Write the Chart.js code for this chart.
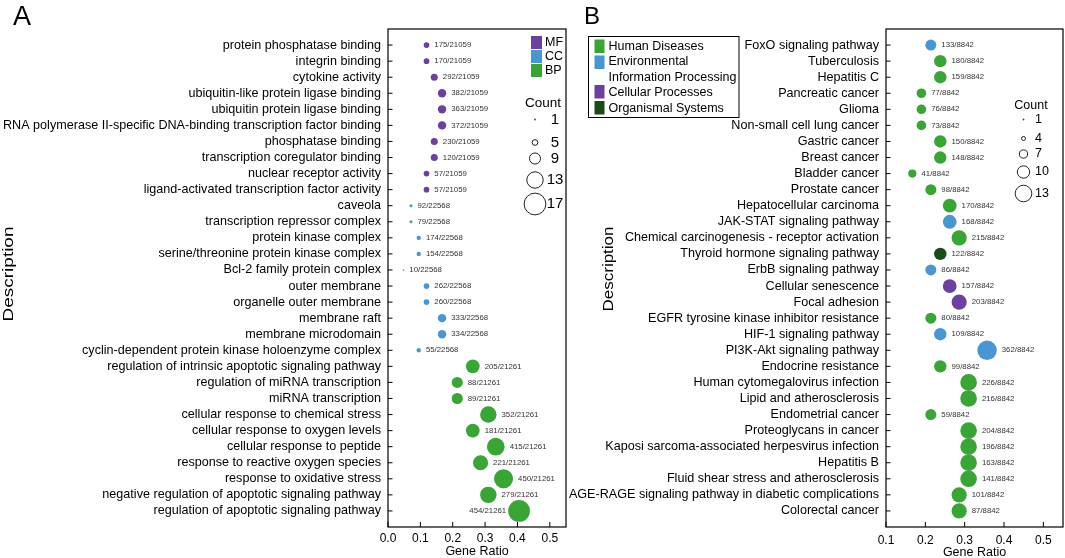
<!DOCTYPE html>
<html><head><meta charset="utf-8">
<script src="https://cdn.jsdelivr.net/npm/chart.js@4.4.1/dist/chart.umd.min.js"></script>
<style>
html,body{margin:0;padding:0;background:#fff;width:1065px;height:558px;overflow:hidden;}
#ca{position:absolute;left:0;top:0;}
#cb{position:absolute;left:560px;top:0;}
</style></head><body>
<canvas id="ca" width="575" height="558"></canvas>
<canvas id="cb" width="505" height="558"></canvas>
<script>
const FONT = '"Liberation Sans", Arial, Helvetica, sans-serif';

// ---------- Panel A (GO) ----------
const termsA = [
  "protein phosphatase binding","integrin binding","cytokine activity",
  "ubiquitin-like protein ligase binding","ubiquitin protein ligase binding",
  "RNA polymerase II-specific DNA-binding transcription factor binding",
  "phosphatase binding","transcription coregulator binding","nuclear receptor activity",
  "ligand-activated transcription factor activity",
  "caveola","transcription repressor complex","protein kinase complex",
  "serine/threonine protein kinase complex","Bcl-2 family protein complex","outer membrane",
  "organelle outer membrane","membrane raft","membrane microdomain",
  "cyclin-dependent protein kinase holoenzyme complex",
  "regulation of intrinsic apoptotic signaling pathway","regulation of miRNA transcription",
  "miRNA transcription","cellular response to chemical stress","cellular response to oxygen levels",
  "cellular response to peptide","response to reactive oxygen species","response to oxidative stress",
  "negative regulation of apoptotic signaling pathway","regulation of apoptotic signaling pathway"
];
const ratiosA = [0.119,0.119,0.143,0.167,0.167,0.167,0.143,0.143,0.119,0.119,
                 0.071,0.071,0.095,0.095,0.048,0.119,0.119,0.167,0.167,0.095,
                 0.262,0.214,0.214,0.310,0.262,0.333,0.286,0.357,0.310,0.405];
const countsA = [5,5,6,7,7,7,6,6,5,5, 3,3,4,4,2,5,5,7,7,4, 11,9,9,13,11,14,12,15,13,17];
const groupsA = ["MF","MF","MF","MF","MF","MF","MF","MF","MF","MF",
                 "CC","CC","CC","CC","CC","CC","CC","CC","CC","CC",
                 "BP","BP","BP","BP","BP","BP","BP","BP","BP","BP"];
const bgA = ["175/21059","170/21059","292/21059","382/21059","363/21059","372/21059","230/21059","120/21059","57/21059","57/21059",
             "92/22568","79/22568","174/22568","154/22568","10/22568","262/22568","260/22568","333/22568","334/22568","55/22568",
             "205/21261","88/21261","89/21261","352/21261","181/21261","415/21261","221/21261","450/21261","279/21261","454/21261"];
const xTicksA = [0.0,0.1,0.2,0.3,0.4,0.5];
const legendGroupsA = ["MF","CC","BP"];
const legendCountsA = [1,5,9,13,17];

// ---------- Panel B (KEGG) ----------
const termsB = [
  "FoxO signaling pathway","Tuberculosis","Hepatitis C","Pancreatic cancer","Glioma",
  "Non-small cell lung cancer","Gastric cancer","Breast cancer","Bladder cancer","Prostate cancer",
  "Hepatocellular carcinoma","JAK-STAT signaling pathway","Chemical carcinogenesis - receptor activation",
  "Thyroid hormone signaling pathway","ErbB signaling pathway","Cellular senescence","Focal adhesion",
  "EGFR tyrosine kinase inhibitor resistance","HIF-1 signaling pathway","PI3K-Akt signaling pathway",
  "Endocrine resistance","Human cytomegalovirus infection","Lipid and atherosclerosis","Endometrial cancer",
  "Proteoglycans in cancer","Kaposi sarcoma-associated herpesvirus infection","Hepatitis B",
  "Fluid shear stress and atherosclerosis","AGE-RAGE signaling pathway in diabetic complications","Colorectal cancer"
];
const ratiosB = [0.214,0.238,0.238,0.190,0.190,0.190,0.238,0.238,0.167,0.214,
                 0.262,0.262,0.286,0.238,0.214,0.262,0.286,0.214,0.238,0.357,
                 0.238,0.310,0.310,0.214,0.310,0.310,0.310,0.310,0.286,0.286];
const countsB = [9,10,10,8,8,8,10,10,7,9, 11,11,12,10,9,11,12,9,10,15, 10,13,13,9,13,13,13,13,12,12];
const groupsB = ["EIP","HD","HD","HD","HD","HD","HD","HD","HD","HD",
                 "HD","EIP","HD","OS","EIP","CP","CP","HD","EIP","EIP",
                 "HD","HD","HD","HD","HD","HD","HD","HD","HD","HD"];
const bgB = ["133/8842","180/8842","159/8842","77/8842","76/8842","73/8842","150/8842","148/8842","41/8842","98/8842",
             "170/8842","168/8842","215/8842","122/8842","86/8842","157/8842","203/8842","80/8842","109/8842","362/8842",
             "99/8842","226/8842","216/8842","59/8842","204/8842","196/8842","163/8842","141/8842","101/8842","87/8842"];
const xTicksB = [0.1,0.2,0.3,0.4,0.5];
const legendGroupsB = [["HD","Human Diseases"],["EIP","Environmental"],[null,"Information Processing"],["CP","Cellular Processes"],["OS","Organismal Systems"]];
const legendCountsB = [1,4,7,10,13];

const COLORS = {MF:"#6b40a0",CC:"#4896d2",BP:"#38a534",HD:"#38a534",EIP:"#4896d2",CP:"#6b40a0",OS:"#184d18"};

const radA = c => Math.max(0.8, 0.67*c - 0.5);
const radB = c => Math.max(0.8, 0.7*c - 0.8);

function drawRotated(ctx, text, cx, cy, fontPx, length){
  ctx.save();
  ctx.font = fontPx + "px " + FONT;
  const w = ctx.measureText(text).width;
  ctx.translate(cx, cy);
  ctx.rotate(-Math.PI/2);
  ctx.scale(length/w, 1);
  ctx.textAlign = "center"; ctx.textBaseline = "middle"; ctx.fillStyle = "#000";
  ctx.fillText(text, 0, 0);
  ctx.restore();
}

function makeChart(canvas, P){
  const pts = P.ratios.map((r,i)=>({x:r, y:i}));
  const plugin = {
    id: "panelDeco",
    afterDatasetsDraw(chart){
      const ctx = chart.ctx, ca = chart.chartArea;
      const meta = chart.getDatasetMeta(0);
      ctx.save();
      ctx.font = "7.8px " + FONT;
      ctx.fillStyle = "#333"; ctx.textBaseline = "middle"; ctx.textAlign = "left";
      meta.data.forEach((el,i)=>{
        const r = P.rad(P.counts[i]);
        const t = P.bg[i];
        const w = ctx.measureText(t).width;
        let tx = el.x + r + 5;
        if (tx + w > ca.right - 2) tx = el.x - r - 2 - w;
        ctx.fillText(t, tx, el.y);
      });
      ctx.restore();
    },
    afterDraw(chart){
      const ctx = chart.ctx, ca = chart.chartArea;
      const xs = chart.scales.x, ys = chart.scales.y;
      ctx.save();
      ctx.strokeStyle = "#000"; ctx.lineWidth = 1.2;
      ctx.strokeRect(ca.left, ca.top, ca.right - ca.left, ca.bottom - ca.top);
      ctx.lineWidth = 1;
      ctx.beginPath();
      P.terms.forEach((t,i)=>{ const y = ys.getPixelForValue(i); ctx.moveTo(ca.left, y); ctx.lineTo(ca.left + 4.5, y); });
      P.xticks.forEach(v=>{ const x = xs.getPixelForValue(v); ctx.moveTo(x, ca.bottom); ctx.lineTo(x, ca.bottom - 5); });
      ctx.stroke();
      ctx.fillStyle = "#000";
      ctx.font = "12.5px " + FONT; ctx.textAlign = "center"; ctx.textBaseline = "middle";
      ctx.fillText("Gene Ratio", (ca.left + ca.right)/2, P.gy);
      drawRotated(ctx, "Description", P.dx, P.dy, 14.5, P.dlen);
      ctx.font = P.letterSize + "px " + FONT; ctx.textAlign = "left"; ctx.textBaseline = "alphabetic";
      ctx.fillText(P.letter, P.lx, P.ly);
      P.legend(ctx);
      ctx.restore();
    }
  };
  return new Chart(canvas, {
    type: "scatter",
    data: { datasets: [{
      data: pts,
      backgroundColor: P.groups.map(g=>COLORS[g]),
      borderWidth: 0,
      pointRadius: c => P.rad(P.counts[c.dataIndex]),
      pointHoverRadius: c => P.rad(P.counts[c.dataIndex])
    }]},
    options: {
      responsive: false, animation: false, events: [],
      layout: { autoPadding: false, padding: { left: 0, right: P.padR, top: 29, bottom: 0 } },
      plugins: { legend: { display: false }, tooltip: { enabled: false } },
      scales: {
        x: {
          type: "linear", min: P.xmin, max: 0.55,
          afterBuildTicks: s => { s.ticks = P.xticks.map(v=>({value:v})); },
          afterFit: s => { s.height = 31; s.paddingLeft = 0; s.paddingRight = 0; },
          grid: { display: false, drawTicks: false },
          border: { display: false },
          ticks: { padding: P.xpad, color: "#000", font: { family: FONT, size: 12 }, maxRotation: 0, autoSkip: false,
                   callback: v => Number(v).toFixed(1) }
        },
        y: {
          type: "linear", reverse: true, min: -1, max: 30,
          afterBuildTicks: s => { s.ticks = P.terms.map((t,i)=>({value:i})); },
          afterFit: s => { s.width = P.yw; s.paddingTop = 0; s.paddingBottom = 0; },
          grid: { display: false, drawTicks: false },
          border: { display: false },
          ticks: { padding: 7, color: "#000", font: { family: FONT, size: 12.6 }, autoSkip: false,
                   callback: v => P.terms[v] }
        }
      }
    },
    plugins: [plugin]
  });
}

function countLegend(ctx, cfg){
  ctx.fillStyle = "#000";
  ctx.font = cfg.titleSize + "px " + FONT; ctx.textAlign = "center"; ctx.textBaseline = "middle";
  ctx.fillText("Count", cfg.tx, cfg.ty);
  cfg.counts.forEach((c,i)=>{
    const y = cfg.ys[i];
    const r = cfg.rad(c);
    ctx.beginPath();
    if (r <= 1) { ctx.fillStyle = "#444"; ctx.arc(cfg.cx, y, 0.9, 0, Math.PI*2); ctx.fill(); }
    else { ctx.strokeStyle = "#222"; ctx.lineWidth = 1; ctx.arc(cfg.cx, y, r, 0, Math.PI*2); ctx.stroke(); }
    ctx.fillStyle = "#000";
    ctx.font = cfg.numSize + "px " + FONT; ctx.textAlign = cfg.numAlign; ctx.textBaseline = "middle";
    ctx.fillText(String(c), cfg.nx, y);
  });
}

makeChart(document.getElementById("ca"), {
  terms: termsA, ratios: ratiosA, counts: countsA, groups: groupsA, bg: bgA, xticks: xTicksA,
  rad: radA, xmin: 0.0, yw: 388, padR: 9, xpad: 4,
  gy: 552, dx: 8.5, dy: 274, dlen: 95, letter: "A", letterSize: 27, lx: 13, ly: 25,
  legend(ctx){
    const tops = [36, 50, 64];
    legendGroupsA.forEach((g,i)=>{
      ctx.fillStyle = COLORS[g];
      ctx.fillRect(531, tops[i], 11, 13);
      ctx.fillStyle = "#000"; ctx.font = "12.5px " + FONT; ctx.textAlign = "left"; ctx.textBaseline = "middle";
      ctx.fillText(g, 545, tops[i] + 7);
    });
    countLegend(ctx, { counts: legendCountsA, rad: radA, tx: 543, ty: 103.5, titleSize: 13.5,
      cx: 535, ys: [119.5, 142.5, 158.5, 180, 204], nx: 555, numSize: 15, numAlign: "center" });
  }
});

makeChart(document.getElementById("cb"), {
  terms: termsB, ratios: ratiosB, counts: countsB, groups: groupsB, bg: bgB, xticks: xTicksB,
  rad: radB, xmin: 0.1, yw: 326, padR: 2, xpad: 6,
  gy: 553, dx: 48.5, dy: 269, dlen: 85, letter: "B", letterSize: 24, lx: 24, ly: 23.5,
  legend(ctx){
    ctx.strokeStyle = "#000"; ctx.lineWidth = 1;
    ctx.strokeRect(28.5, 36.5, 150.5, 81);
    const sq = [39.5, 55.5, null, 85, 101];
    const ty = [46.5, 62, 77.5, 93, 108.5];
    legendGroupsB.forEach((g,i)=>{
      if (g[0]) { ctx.fillStyle = COLORS[g[0]]; ctx.fillRect(34.5, sq[i], 10, 13.5); }
      ctx.fillStyle = "#000"; ctx.font = "12.5px " + FONT; ctx.textAlign = "left"; ctx.textBaseline = "middle";
      ctx.fillText(g[1], 48.5, ty[i]);
    });
    countLegend(ctx, { counts: legendCountsB, rad: radB, tx: 471, ty: 106, titleSize: 12.5,
      cx: 463.5, ys: [119.5, 138.5, 154, 172, 193.5], nx: 475, numSize: 12.5, numAlign: "left" });
  }
});
</script>
</body></html>
